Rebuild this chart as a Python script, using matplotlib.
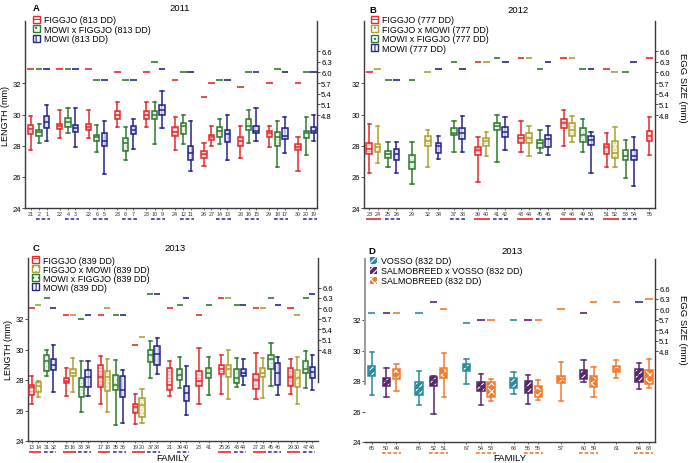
import matplotlib
matplotlib.use("Agg")
import matplotlib.pyplot as plt
from matplotlib.patches import Patch, PathPatch
import matplotlib.transforms as mtransforms

plt.rcParams['font.family'] = ['Liberation Sans', 'DejaVu Sans']
plt.rcParams['hatch.linewidth'] = 0.8

# ---------------- Panel A : 2011 ----------------
fam_A = ['21', '2', '1', '22', '4', '3', '22', '6', '5', '23', '8', '7', '23', '10', '9',
         '24', '12', '11', '26', '27', '14', '13', '28', '16', '15', '29', '18', '17',
         '30', '20', '19']
cross_A = ['F', 'MF', 'M'] * 6 + ['F', 'F', 'MF', 'M'] + ['F', 'MF', 'M'] * 3
lo_A = [27.72, 28.17, 28.28, 28.49, 28.79, 27.91, 28.49, 27.59, 26.21, 29.22, 27.11, 27.78,
        29.22, 28.10, 29.12, 27.72, 28.10, 26.38, 26.70, 28.00, 28.10, 27.09, 27.20, 28.17,
        28.28, 27.89, 26.60, 27.50, 26.38, 27.39, 28.28]
q1_A = [28.75, 28.64, 29.14, 29.05, 29.22, 28.88, 29.03, 28.32, 27.95, 29.72, 27.67, 28.75,
        29.72, 29.72, 29.94, 28.60, 28.75, 27.07, 27.24, 28.36, 28.53, 28.21, 28.00, 29.01,
        28.79, 28.53, 28.00, 28.43, 27.72, 28.49, 28.79]
med_A = [29.07, 28.86, 29.50, 29.25, 29.50, 29.14, 29.22, 28.53, 28.32, 29.96, 28.15, 29.01,
         29.96, 30.00, 30.32, 28.86, 29.25, 27.50, 27.46, 28.53, 28.92, 28.75, 28.28, 29.29,
         28.97, 28.79, 28.53, 28.64, 27.93, 28.79, 28.97]
q3_A = [29.33, 29.03, 29.91, 29.40, 29.78, 29.31, 29.40, 28.69, 28.79, 30.22, 28.49, 29.27,
        30.22, 30.22, 30.58, 29.18, 29.48, 28.00, 27.67, 28.69, 29.22, 29.01, 28.53, 29.72,
        29.25, 28.97, 28.86, 29.12, 28.10, 28.97, 29.18]
hi_A = [29.89, 29.40, 30.58, 30.32, 30.41, 30.41, 30.32, 29.33, 29.61, 30.80, 29.22, 29.72,
        30.80, 30.80, 31.53, 29.83, 29.94, 29.61, 28.17, 29.29, 29.72, 29.94, 29.29, 30.32,
        30.41, 29.29, 29.61, 29.83, 28.53, 29.83, 30.00]
egg_A = [6.1, 6.1, 6.1, 6.1, 6.1, 6.1, 6.1, 5.8, 5.8, 6.0, 5.8, 5.8, 6.0, 6.3, 6.1,
         5.8, 6.0, 6.0, 5.3, 5.7, 5.8, 5.8, 5.6, 6.0, 6.0, 5.7, 6.1, 6.0, 5.7, 6.0, 6.0]
layout_A = "spw" + "gpw" * 5 + "gwpw" + "gpw" * 3
solid_A = []
dashed_A = [('2', '1'), ('4', '3'), ('6', '5'), ('8', '7'), ('10', '9'), ('12', '11'),
            ('14', '13'), ('16', '15'), ('18', '17'), ('20', '19')]
legend_A = [('F', 'FIGGJO (813 DD)'), ('MF', 'MOWI x FIGGJO (813 DD)'), ('M', 'MOWI (813 DD)')]

# ---------------- Panel B : 2012 ----------------
fam_B = ['23', '24', '25', '26', '29', '32', '34', '37', '38', '39', '40', '41', '42', '43',
         '44', '45', '46', '47', '48', '49', '50', '51', '52', '53', '54', '55']
cross_B = ['F', 'FM', 'MF', 'M', 'MF', 'FM', 'M', 'MF', 'M'] + ['F', 'FM', 'MF', 'M'] * 4 + ['F']
lo_B = [26.27, 26.87, 26.60, 26.27, 25.56, 26.60, 27.13, 27.61, 27.61, 25.69, 27.31, 26.92,
        27.74, 27.61, 27.31, 27.50, 27.39, 28.00, 28.21, 27.61, 26.27, 26.60, 26.60, 25.91,
        25.41, 27.39]
q1_B = [27.46, 27.61, 27.20, 27.07, 26.49, 27.95, 27.50, 28.69, 28.43, 27.39, 27.95, 29.01,
        28.53, 28.17, 28.15, 27.82, 27.93, 29.14, 28.64, 28.21, 28.06, 27.46, 27.20, 27.07,
        27.07, 28.28]
med_B = [27.78, 27.89, 27.46, 27.46, 26.92, 28.32, 28.00, 28.79, 28.79, 27.72, 28.32, 29.29,
         28.86, 28.49, 28.49, 28.15, 28.43, 29.46, 29.01, 28.71, 28.38, 27.93, 27.56, 27.35,
         27.35, 28.64]
q3_B = [28.15, 28.10, 27.67, 27.78, 27.39, 28.60, 28.17, 29.12, 29.12, 27.93, 28.49, 29.44,
        29.22, 28.71, 28.79, 28.38, 28.71, 29.72, 29.44, 29.12, 28.60, 28.10, 28.32, 27.72,
        27.74, 28.97]
hi_B = [29.40, 29.29, 28.21, 28.21, 28.21, 29.01, 28.60, 29.61, 29.91, 28.53, 28.90, 30.00,
        29.83, 29.61, 29.29, 29.01, 29.29, 30.32, 29.89, 29.72, 28.90, 28.79, 29.22, 28.38,
        28.53, 29.83]
egg_B = [6.0, 6.1, 5.8, 5.8, 5.8, 6.0, 6.1, 6.3, 6.1, 6.3, 6.3, 6.4, 6.3, 6.4, 6.4, 6.1,
         6.3, 6.4, 6.4, 6.1, 6.1, 6.1, 6.0, 6.0, 6.3, 6.4]
layout_B = "swpw" + "g" + "gp" + "gw" + "gwpw" * 4 + "g"
solid_B = [('23', '24'), ('39', '40'), ('43', '44'), ('47', '48'), ('51', '52')]
dashed_B = [('25', '26'), ('37', '38'), ('41', '42'), ('45', '46'), ('49', '50'), ('53', '54')]
legend_B = [('F', 'FIGGJO (777 DD)'), ('FM', 'FIGGJO x MOWI (777 DD)'),
            ('MF', 'MOWI x FIGGJO (777 DD)'), ('M', 'MOWI (777 DD)')]

# ---------------- Panel C : 2013 ----------------
fam_C = ['13', '14', '31', '32', '15', '16', '33', '34', '17', '18', '35', '36', '19', '20',
         '37', '38', '21', '39', '40', '23', '41', '25', '26', '43', '44', '27', '28', '45',
         '46', '29', '30', '47', '48']
cross_C = ['F', 'FM', 'MF', 'M'] * 4 + ['F', 'MF', 'M', 'F', 'MF'] + ['F', 'FM', 'MF', 'M'] * 3
lo_C = [26.44, 26.87, 28.23, 27.24, 26.98, 27.20, 25.90, 26.92, 26.44, 25.90, 25.04, 25.19,
        25.11, 25.15, 28.12, 28.38, 26.94, 27.48, 25.69, 26.44, 27.03, 27.09, 26.77, 27.52,
        27.67, 26.77, 26.81, 27.59, 27.03, 27.09, 26.44, 27.46, 27.35]
q1_C = [27.03, 27.20, 28.56, 28.66, 27.80, 28.23, 26.88, 27.52, 27.56, 27.31, 27.35, 26.88,
        25.86, 25.58, 29.18, 28.97, 27.37, 28.02, 26.60, 27.63, 28.12, 28.38, 28.17, 27.80,
        28.23, 27.41, 28.17, 28.75, 27.69, 27.63, 27.56, 28.43, 28.12]
med_C = [27.52, 27.63, 29.25, 28.97, 27.95, 28.49, 27.52, 28.17, 28.17, 28.17, 27.69, 27.35,
         26.23, 26.34, 29.61, 29.72, 27.67, 28.32, 27.13, 27.95, 28.43, 28.71, 28.75, 28.10,
         28.43, 28.00, 28.49, 29.35, 28.49, 28.17, 28.12, 28.75, 28.53]
q3_C = [27.67, 27.89, 29.61, 29.35, 28.13, 28.75, 28.10, 28.64, 28.97, 28.60, 28.32, 28.28,
        26.40, 26.83, 30.00, 30.26, 28.77, 28.71, 27.59, 28.56, 28.81, 28.97, 28.99, 28.71,
        28.75, 28.38, 28.77, 29.63, 29.09, 28.81, 28.66, 29.25, 28.86]
hi_C = [28.23, 27.95, 30.00, 30.28, 28.81, 29.46, 29.25, 29.25, 29.57, 29.35, 29.31, 28.66,
        27.05, 27.41, 30.58, 30.75, 29.25, 29.50, 28.92, 30.11, 29.50, 29.61, 29.96, 29.42,
        29.35, 29.74, 29.42, 30.43, 29.53, 29.35, 29.50, 29.89, 29.63]
egg_C = [6.0, 6.1, 6.3, 6.0, 5.8, 5.8, 5.7, 5.8, 5.8, 6.0, 5.8, 5.8, 4.95, 5.17, 6.4, 6.4,
         6.0, 6.1, 6.3, 5.8, 6.1, 6.3, 6.3, 6.1, 6.1, 6.0, 6.0, 6.3, 6.1, 6.0, 5.8, 6.3, 6.4]
layout_C = "swpw" + "gwpw" * 3 + "gqw" + "gq" + "gwpw" * 3
solid_C = [('13', '14'), ('15', '16'), ('17', '18'), ('19', '20'), ('25', '26'),
           ('27', '28'), ('29', '30')]
dashed_C = [('31', '32'), ('33', '34'), ('35', '36'), ('37', '38'), ('39', '40'),
            ('43', '44'), ('45', '46'), ('47', '48')]
legend_C = [('F', 'FIGGJO (839 DD)'), ('FM', 'FIGGJO x MOWI (839 DD)'),
            ('MF', 'MOWI x FIGGJO (839 DD)'), ('M', 'MOWI (839 DD)')]

# ---------------- Panel D : 2013 ----------------
fam_D = ['65', '50', '49', '66', '52', '51', '67', '54', '53', '68', '56', '55', '57', '60',
         '59', '61', '64', '63']
cross_D = ['V', 'SV', 'S'] * 4 + ['S', 'SV', 'S', 'S', 'SV', 'S']
lo_D = [27.05, 26.94, 27.37, 26.40, 25.86, 26.92, 27.78, 26.40, 26.72, 27.16, 26.49, 26.77,
        26.66, 27.91, 26.98, 28.21, 27.46, 27.56]
q1_D = [28.32, 27.69, 28.10, 27.09, 27.69, 28.21, 28.64, 27.37, 26.98, 27.52, 27.20, 26.98,
        27.89, 28.12, 27.59, 28.60, 27.95, 27.78]
med_D = [28.64, 28.00, 28.43, 27.56, 28.06, 28.53, 28.92, 27.67, 27.63, 27.84, 27.63, 27.35,
         28.12, 28.49, 28.06, 28.81, 28.38, 28.28]
q3_D = [28.97, 28.17, 28.81, 27.91, 28.23, 28.88, 29.09, 27.95, 27.91, 28.17, 28.02, 27.67,
        28.32, 28.75, 28.32, 28.97, 28.77, 28.71]
hi_D = [29.89, 28.88, 29.14, 28.64, 28.34, 29.83, 29.42, 28.49, 28.12, 28.56, 28.38, 28.06,
        29.25, 29.40, 28.92, 29.35, 29.20, 29.46]
egg_D = [5.9, 5.9, 5.9, 5.9, 6.2, 6.0, 5.6, 5.7, 5.7, 5.7, 5.7, 5.7, 6.0, 5.9, 6.2, 6.2,
         6.2, 6.3]
layout_D = "sqw" + "gqw" * 3 + "g" + "gw" + "g" + "gw"
solid_D = []
dashed_D = [('50', '49'), ('52', '51'), ('54', '53'), ('56', '55'), ('60', '59'), ('64', '63')]
legend_D = [('V', 'VOSSO (832 DD)'), ('SV', 'SALMOBREED x VOSSO (832 DD)'),
            ('S', 'SALMOBREED (832 DD)')]

# ---------------- styles ----------------
STYLE = {
    'F':  dict(col='#e42a2e', fill='#fde6e6', hatch='-----', hcol='#f5a3a3'),
    'FM': dict(col='#a8a232', fill='#f7f5e0', hatch='.....', hcol='#d6d28a'),
    'MF': dict(col='#2f7a2f', fill='#f0f7f0', hatch='.....', hcol='#b9d9b9'),
    'M':  dict(col='#25258a', fill='#e8e8f6', hatch='|||||', hcol='#a6a6de'),
    'V':  dict(col='#2b8c9c', fill='#2b8c9c', hatch='/////', hcol='white'),
    'SV': dict(col='#54296a', fill='#54296a', hatch='/////', hcol='white'),
    'S':  dict(col='#f27b2d', fill='#f27b2d', hatch='xxxx', hcol='white'),
}
UL_SOLID = '#e42a2e'
UL_DASH = {'A': '#3b3ba6', 'B': '#3b3ba6', 'C': '#3b3ba6', 'D': '#f27b2d'}


def make_positions(codes, p, g, q):
    steps = {'s': 0.0, 'w': 1.0, 'p': p, 'g': g, 'q': q}
    out, x = [], 0.0
    for c in codes:
        x += steps[c]
        out.append(x)
    return out


W, H = 689, 464
fig = plt.figure(figsize=(W / 100, H / 100), dpi=100)

panels = [
    dict(key='A', title='2011', rect=[25, 22, 317, 209], fam=fam_A, cross=cross_A, lo=lo_A,
         q1=q1_A, med=med_A, q3=q3_A, hi=hi_A, egg=egg_A, layout=layout_A, gaps=(1.1, 1.75, 1.1),
         pad=(0.78, 0.43), bw=0.7, dash=0.45, solid=solid_A, dashed=dashed_A, legend=legend_A,
         ylab=True, eggl=False, xlab=None, leg=(0.027, 1.03, 0.05), let=(0.027, 1.07),
         tit=(0.53, 1.07), eggbound=None, leftbound=None),
    dict(key='B', title='2012', rect=[364, 22, 655, 209], fam=fam_B, cross=cross_B, lo=lo_B,
         q1=q1_B, med=med_B, q3=q3_B, hi=hi_B, egg=egg_B, layout=layout_B, gaps=(1.3, 1.9, 1.3),
         pad=(0.64, 0.68), bw=0.7, dash=0.4, solid=solid_B, dashed=dashed_B, legend=legend_B,
         ylab=False, eggl=True, xlab=None, leg=(0.024, 1.03, 0.05), let=(0.02, 1.064),
         tit=(0.53, 1.064), eggbound=None, leftbound=None, eggy=0.65),
    dict(key='C', title='2013', rect=[28, 259, 318, 442], fam=fam_C, cross=cross_C, lo=lo_C,
         q1=q1_C, med=med_C, q3=q3_C, hi=hi_C, egg=egg_C, layout=layout_C, gaps=(1.25, 1.9, 1.45),
         pad=(0.55, 0.85), bw=0.78, dash=0.45, solid=solid_C, dashed=dashed_C, legend=legend_C,
         ylab=True, eggl=False, xlab=-0.088, leg=(0.015, 1.012, 0.0), let=(0.017, 1.055),
         tit=(0.507, 1.055), eggbound=3.88, leftbound=None),
    dict(key='D', title='2013', rect=[365, 260, 655, 443], fam=fam_D, cross=cross_D, lo=lo_D,
         q1=q1_D, med=med_D, q3=q3_D, hi=hi_D, egg=egg_D, layout=layout_D, gaps=(1.45, 2.25, 1.45),
         pad=(0.67, 0.6), bw=0.72, dash=0.37, solid=solid_D, dashed=dashed_D, legend=legend_D,
         ylab=False, eggl=True, xlab=-0.083, leg=(0.017, 1.015, 0.12), let=(0.01, 1.044),
         tit=(0.507, 1.044), eggbound=None, leftbound=27.8, eggy=0.62),
]

SPINE = '#3a3a3a'

for P in panels:
    l, t, r, b = P['rect']
    ax = fig.add_axes([l / W, 1 - b / H, (r - l) / W, (b - t) / H])
    pos = make_positions(P['layout'], *P['gaps'])
    for i, cr in enumerate(P['cross']):
        st = STYLE[cr]
        stats = [dict(med=P['med'][i], q1=P['q1'][i], q3=P['q3'][i],
                      whislo=P['lo'][i], whishi=P['hi'][i], fliers=[])]
        res = ax.bxp(stats, positions=[pos[i]], widths=P['bw'], patch_artist=True,
                     showfliers=False, manage_ticks=False, capwidths=P['bw'] * 0.6,
                     boxprops=dict(facecolor=st['fill'], edgecolor=st['hcol'],
                                   hatch=st['hatch'], linewidth=0),
                     whiskerprops=dict(color=st['col'], linewidth=1.1),
                     capprops=dict(color=st['col'], linewidth=1.1),
                     medianprops=dict(color=st['col'], linewidth=1.1))
        box = res['boxes'][0]
        ax.add_patch(PathPatch(box.get_path(), transform=box.get_transform(),
                               facecolor='none', edgecolor=st['col'], linewidth=1.1, zorder=3))
    ax.set_xlim(pos[0] - P['pad'][0], pos[-1] + P['pad'][1])
    ax.set_ylim(24, 36)
    ax.set_yticks([24, 26, 28, 30, 32])
    ax.set_xticks(pos)
    ax.set_xticklabels(P['fam'], fontsize=3.9, color='#333333')
    ax.tick_params(axis='x', length=1.5, pad=1.0, width=0.6, color='#555555')
    ax.tick_params(axis='y', length=2.0, pad=1.0, width=0.6, labelsize=5.5, color='#333333')
    for s in ['top', 'right']:
        ax.spines[s].set_visible(False)
    for s in ['left', 'bottom']:
        ax.spines[s].set_color(SPINE)
        ax.spines[s].set_linewidth(1.0)
    if P['leftbound'] is not None:
        ax.spines['left'].set_bounds(P['leftbound'], 36)
        ax.spines['left'].set_color('#9a9a9a')
        ax.spines['left'].set_linewidth(1.4)

    # egg size axis
    ax2 = ax.twinx()
    ax2.set_ylim(2.18, 7.45)
    ax2.set_yticks([4.8, 5.1, 5.4, 5.7, 6.0, 6.3, 6.6])
    ax2.set_yticklabels(['%.1f' % v for v in [4.8, 5.1, 5.4, 5.7, 6.0, 6.3, 6.6]])
    ax2.tick_params(axis='y', length=2.0, pad=1.0, width=0.6, labelsize=5.5, color='#333333')
    for s in ['top', 'left', 'bottom']:
        ax2.spines[s].set_visible(False)
    ax2.spines['right'].set_color(SPINE)
    ax2.spines['right'].set_linewidth(1.0)
    if P['eggbound'] is not None:
        ax2.spines['right'].set_bounds(P['eggbound'], 7.45)
    for i, cr in enumerate(P['cross']):
        ax2.hlines(P['egg'][i], pos[i] - P['dash'], pos[i] + P['dash'],
                   colors=STYLE[cr]['col'], linewidth=1.2)

    # underlines below family labels
    tr = mtransforms.blended_transform_factory(ax.transData, ax.transAxes)
    idx = {}
    for i, f in enumerate(P['fam']):
        idx.setdefault(f, i)
    for a, c in P['solid']:
        ax.plot([pos[idx[a]] - 0.45, pos[idx[c]] + 0.45], [-0.058, -0.058], transform=tr,
                color=UL_SOLID, lw=1.2, clip_on=False, solid_capstyle='butt')
    for a, c in P['dashed']:
        ax.plot([pos[idx[a]] - 0.45, pos[idx[c]] + 0.45], [-0.058, -0.058], transform=tr,
                color=UL_DASH[P['key']], lw=1.2, clip_on=False, linestyle=(0, (2.2, 1.2)),
                dash_capstyle='butt')

    # legend
    handles = []
    for cr, lab in P['legend']:
        st = STYLE[cr]
        if cr in ('V', 'SV', 'S'):
            handles.append(Patch(facecolor=st['fill'], edgecolor='white', hatch=st['hatch'],
                                 linewidth=0.0, label=lab))
        else:
            handles.append(Patch(facecolor='white', edgecolor=st['col'], hatch=st['hatch'][:3],
                                 linewidth=1.0, label=lab))
    lx, ly, lsp = P['leg']
    ax.legend(handles=handles, loc='upper left', bbox_to_anchor=(lx, ly),
              frameon=False, fontsize=6.4, handlelength=0.8, handleheight=0.8,
              handletextpad=0.4, labelspacing=lsp, borderpad=0, borderaxespad=0)

    # titles
    ax.text(P['tit'][0], P['tit'][1], P['title'], transform=ax.transAxes, ha='center',
            va='center', fontsize=6.8)
    ax.text(P['let'][0], P['let'][1], P['key'], transform=ax.transAxes, ha='left',
            va='center', fontsize=6.8, fontweight='bold')
    if P['ylab']:
        ax.set_ylabel('LENGTH (mm)', fontsize=6.5, labelpad=2)
    if P['eggl']:
        ax2.set_ylabel('EGG SIZE (mm)', fontsize=6.8, rotation=270, va='center')
        ax2.yaxis.set_label_coords(1.095, P['eggy'])
    if P['xlab'] is not None:
        ax.set_xlabel('FAMILY', fontsize=6.8, va='center')
        ax.xaxis.set_label_coords(0.5, P['xlab'])

fig.savefig('out.png', dpi=100)
